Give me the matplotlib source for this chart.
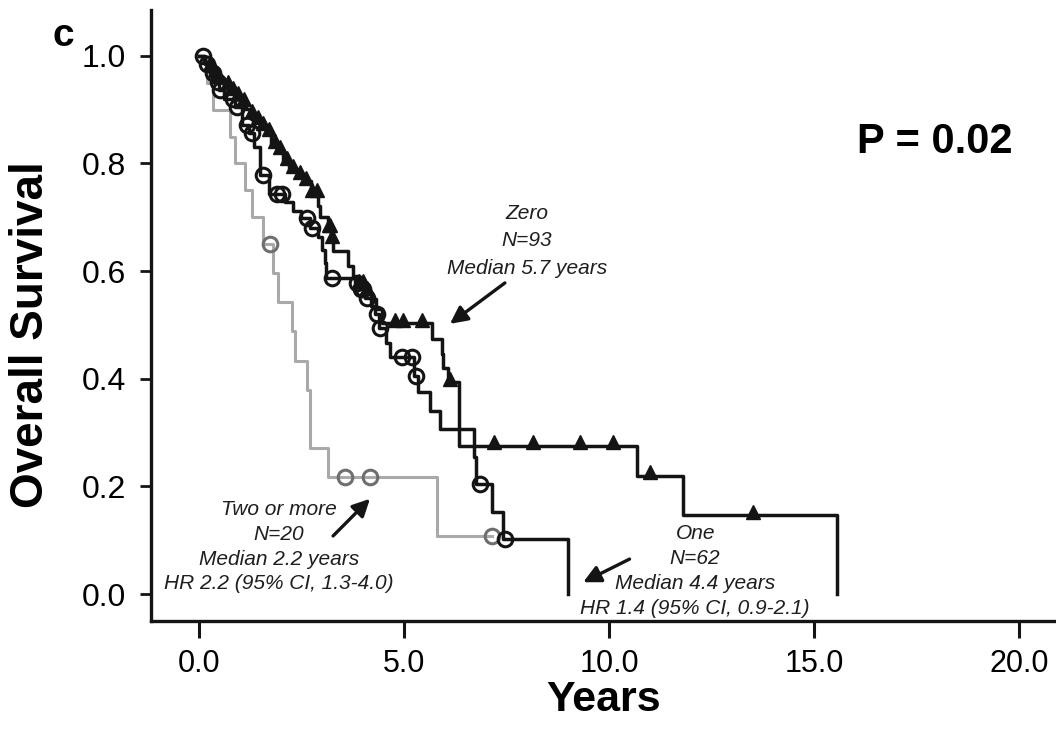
import numpy as np
import matplotlib
matplotlib.use("Agg")
import matplotlib.pyplot as plt

plt.rcParams['font.family'] = ['Liberation Sans', 'DejaVu Sans']

# ---------------- data ----------------
# "Zero" group (N=93) – Kaplan-Meier steps (time in years, survival after step)
zero_t = [0, 0.12, 0.22, 0.33, 0.45, 0.6, 0.75, 0.9, 1.05, 1.15,
          1.25, 1.35, 1.5, 1.65, 1.75, 1.9, 2.05, 2.2, 2.4, 2.6,
          2.72, 2.90, 2.95, 3.15, 3.22, 3.28, 3.63, 3.76, 3.90, 4.05,
          4.20, 4.32, 4.46, 5.68, 5.93, 5.95, 6.07, 6.34, 10.68, 11.8, 15.56]
zero_s = [1.0, 0.989, 0.978, 0.967, 0.957, 0.946, 0.935, 0.924, 0.913, 0.902,
          0.891, 0.880, 0.869, 0.858, 0.836, 0.825, 0.805, 0.790, 0.778, 0.767,
          0.745, 0.720, 0.700, 0.680, 0.660, 0.638, 0.610, 0.588, 0.575, 0.562,
          0.548, 0.530, 0.503, 0.474, 0.446, 0.420, 0.394, 0.276, 0.220, 0.147, 0.0]
zero_censor = [0.27, 0.39, 0.5, 0.71, 0.83, 0.95, 1.1, 1.29, 1.44, 1.56, 1.7,
               1.85, 1.98, 2.15, 2.3, 2.46, 2.6, 2.76, 2.87, 3.17, 3.2, 3.24,
               3.9, 4.0, 4.1, 4.78, 4.98, 5.44, 6.12, 7.2, 8.15, 9.3, 10.1,
               11.0, 13.5]

# "One" group (N=62)
one_t = [0, 0.15, 0.28, 0.40, 0.48, 0.60, 0.88, 1.05, 1.22, 1.35,
         1.49, 1.70, 2.10, 2.30, 2.50, 2.70, 2.90, 3.00, 3.07, 3.10,
         3.80, 3.92, 4.05, 4.20, 4.30, 4.38, 4.55, 4.65, 5.25, 5.34,
         5.63, 5.88, 6.70, 6.76, 7.15, 7.41, 9.00]
one_s = [1.000, 0.984, 0.968, 0.952, 0.936, 0.920, 0.904, 0.872, 0.856, 0.830,
         0.778, 0.744, 0.728, 0.712, 0.698, 0.680, 0.664, 0.640, 0.615, 0.588,
         0.578, 0.567, 0.550, 0.535, 0.520, 0.494, 0.467, 0.440, 0.405, 0.375,
         0.340, 0.306, 0.255, 0.204, 0.153, 0.102, 0.0]
one_censor = [0.1, 0.2, 0.34, 0.46, 0.51, 0.83, 0.93, 1.17, 1.29, 1.56, 1.9,
              2.02, 2.63, 2.76, 3.24, 3.85, 3.95, 4.0, 4.1, 4.34, 4.41, 4.95,
              5.2, 5.3, 6.85, 7.46]

# "Two or more" group (N=20)
two_t = [0, 0.20, 0.34, 0.76, 0.88, 1.12, 1.29, 1.56, 1.80, 1.93,
         2.27, 2.34, 2.63, 2.70, 3.15, 5.80]
two_s = [1.0, 0.95, 0.90, 0.85, 0.80, 0.75, 0.70, 0.65, 0.596, 0.542,
         0.488, 0.433, 0.379, 0.271, 0.217, 0.108]
two_censor = [1.73, 3.56, 4.17, 7.15]
two_end = 7.15

x_ticks = [0, 5, 10, 15, 20]
x_ticklabels = ["0.0", "5.0", "10.0", "15.0", "20.0"]
y_ticks = [0.0, 0.2, 0.4, 0.6, 0.8, 1.0]
y_ticklabels = ["0.0", "0.2", "0.4", "0.6", "0.8", "1.0"]

zero_text = ["Zero", "N=93", "Median 5.7 years"]
one_text = ["One", "N=62", "Median 4.4 years", "HR 1.4 (95% CI, 0.9-2.1)"]
two_text = ["Two or more", "N=20", "Median 2.2 years", "HR 2.2 (95% CI, 1.3-4.0)"]
p_text = "P = 0.02"


def surv_at(ts, ss, t):
    ts = np.asarray(ts); ss = np.asarray(ss)
    i = np.searchsorted(ts, t, side='right') - 1
    return ss[i]


# ---------------- figure ----------------
fig = plt.figure(figsize=(10.56, 7.36), dpi=100)
ax = fig.add_axes([151/1056, 115/736, 1 - 151/1056, 611/736])

ax.set_xlim(-1.17, 20.9)
ax.set_ylim(-0.05, 1.085)

BLACK = '#141414'
GRAY = '#a9a9a9'

# Two or more (gray)
t2 = np.append(two_t, two_end)
s2 = np.append(two_s, two_s[-1])
ax.step(t2, s2, where='post', color=GRAY, lw=2.2, zorder=2)
ax.plot(two_censor, [surv_at(two_t, two_s, c) for c in two_censor],
        ls='none', marker='o', ms=10.5, mfc='none', mec='#6e6e6e', mew=2.2, zorder=3)

# One (circles)
ax.step(one_t, one_s, where='post', color=BLACK, lw=2.5, zorder=4)
ax.plot(one_censor, [surv_at(one_t, one_s, c) for c in one_censor],
        ls='none', marker='o', ms=10.5, mfc='none', mec=BLACK, mew=2.2, zorder=5)

# Zero (triangles)
ax.step(zero_t, zero_s, where='post', color=BLACK, lw=2.5, zorder=4)
ax.plot(zero_censor, [surv_at(zero_t, zero_s, c) + 0.006 for c in zero_censor],
        ls='none', marker='^', ms=10, mfc=BLACK, mec=BLACK, mew=1.0, zorder=6)

# axes styling
for side in ['top', 'right']:
    ax.spines[side].set_visible(False)
for side in ['left', 'bottom']:
    ax.spines[side].set_linewidth(2.4)
    ax.spines[side].set_color(BLACK)

ax.set_xticks(x_ticks)
ax.set_xticklabels(x_ticklabels)
ax.set_yticks(y_ticks)
ax.set_yticklabels(y_ticklabels)
ax.tick_params(axis='x', length=12, width=2.2, pad=8, labelsize=22, color=BLACK)
ax.tick_params(axis='y', length=8, width=2.0, pad=10, labelsize=23, color=BLACK)

ax.set_xlabel("Years", fontsize=31, fontweight='bold', labelpad=1)
ax.set_ylabel("Overall Survival", fontsize=33, fontweight='bold')
ax.yaxis.set_label_coords(-0.108, 0.468)

fig.text(63/1056, 1 - 36/736, "c", fontsize=28, fontweight='bold',
         ha='center', va='center')

ax.text(17.95, 0.84, p_text, fontsize=30, fontweight='bold', ha='center', va='center')

txt_kw = dict(fontsize=15, style='italic', ha='center', va='center', color='#1e1e1e')
for i, line in enumerate(zero_text):
    ax.text(8.0, 0.707 - i * 0.051, line, **txt_kw)
for i, line in enumerate(two_text):
    ax.text(1.95, 0.157 - i * 0.046, line, **txt_kw)
for i, line in enumerate(one_text):
    ax.text(12.1, 0.112 - i * 0.046, line, **txt_kw)

arrow_kw = dict(arrowstyle='-|>', lw=2.4, color=BLACK, mutation_scale=26,
                shrinkA=0, shrinkB=0)
ax.annotate('', xy=(6.12, 0.502), xytext=(7.46, 0.578), arrowprops=arrow_kw)
ax.annotate('', xy=(4.17, 0.177), xytext=(3.27, 0.108), arrowprops=arrow_kw)
ax.annotate('', xy=(9.37, 0.022), xytext=(10.5, 0.065), arrowprops=arrow_kw)

fig.savefig("out.png", dpi=100)
